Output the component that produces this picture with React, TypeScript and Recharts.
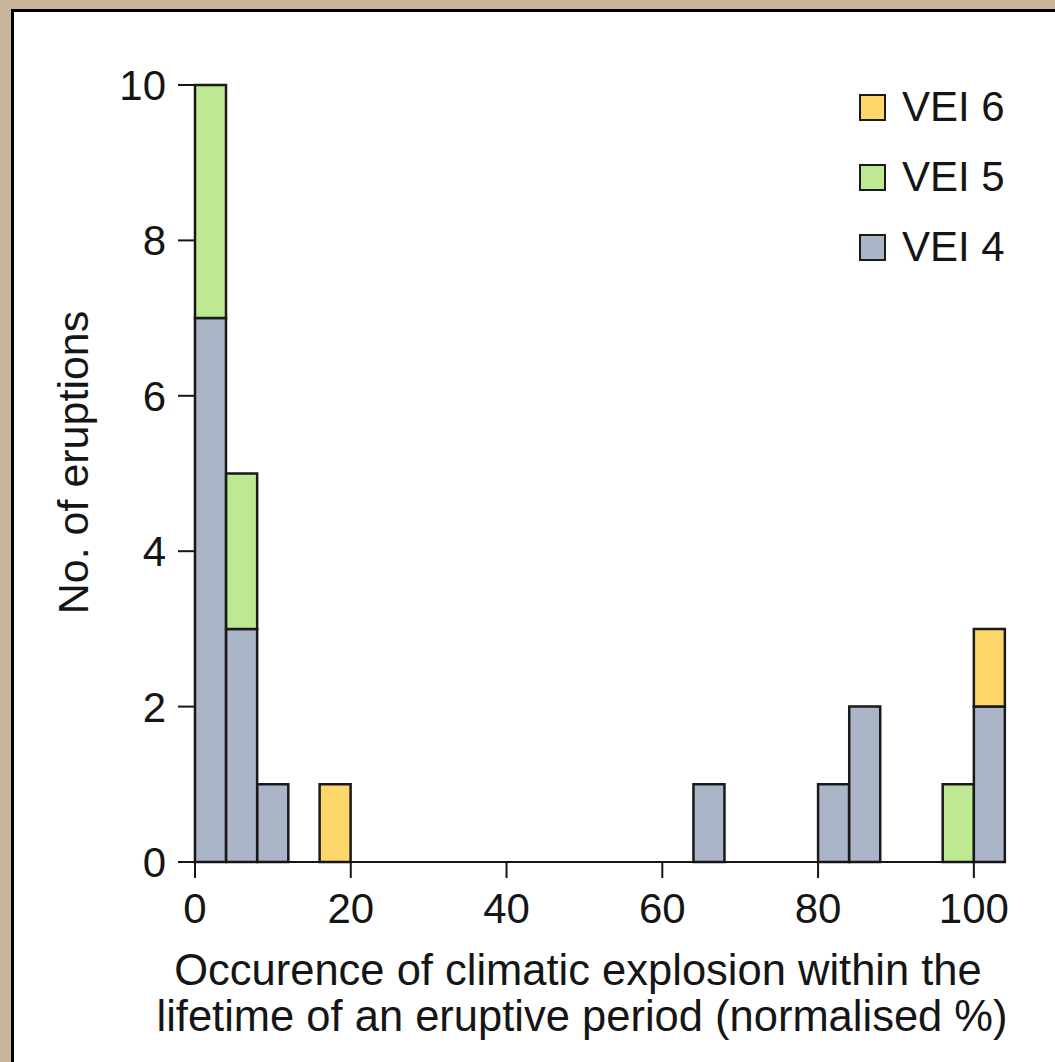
import React from "react";
import {
  ComposedChart,
  Bar,
  XAxis,
  YAxis,
  Legend,
} from "recharts";

// histogram bins (left edge, % of eruptive period), bin width 4
const binStarts = [0, 4, 8, 12, 16, 20, 24, 28, 32, 36, 40, 44, 48, 52, 56, 60, 64, 68, 72, 76, 80, 84, 88, 92, 96, 100];
const vei4 = [7, 3, 1, 0, 0, 0, 0, 0, 0, 0, 0, 0, 0, 0, 0, 0, 1, 0, 0, 0, 1, 2, 0, 0, 0, 2];
const vei5 = [3, 2, 0, 0, 0, 0, 0, 0, 0, 0, 0, 0, 0, 0, 0, 0, 0, 0, 0, 0, 0, 0, 0, 0, 1, 0];
const vei6 = [0, 0, 0, 0, 1, 0, 0, 0, 0, 0, 0, 0, 0, 0, 0, 0, 0, 0, 0, 0, 0, 0, 0, 0, 0, 1];

const xTicks = [0, 20, 40, 60, 80, 100];
const yTicks = [0, 2, 4, 6, 8, 10];

const series = [
  { key: "vei4", name: "VEI 4", color: "#abb5c8" },
  { key: "vei5", name: "VEI 5", color: "#bfe892" },
  { key: "vei6", name: "VEI 6", color: "#fed76b" },
];

const data = binStarts.map((b, i) => ({
  bin: b,
  start: b,
  vei4: vei4[i],
  vei5: vei5[i],
  vei6: vei6[i],
}));

const FONT = "'Liberation Sans', Arial, Helvetica, sans-serif";
const INK = "#151515";

const XTitle = (props: any) => {
  const { viewBox } = props;
  const cx = viewBox.x + viewBox.width / 2 - 22;
  return (
    <text textAnchor="middle" fontFamily={FONT} fontSize={43.5} fill={INK}>
      <tspan x={cx} y={viewBox.y + 123}>
        Occurence of climatic explosion within the
      </tspan>
      <tspan x={cx + 4} y={viewBox.y + 169}>
        lifetime of an eruptive period (normalised %)
      </tspan>
    </text>
  );
};

const YTitle = (props: any) => {
  const { viewBox } = props;
  const x = viewBox.x - 7;
  const y = viewBox.y + viewBox.height / 2 - 11;
  return (
    <text
      x={x}
      y={y}
      transform={`rotate(-90 ${x} ${y})`}
      textAnchor="middle"
      fontFamily={FONT}
      fontSize={43}
      fill={INK}
    >
      No. of eruptions
    </text>
  );
};

const LegendBox = () => (
  <div style={{ fontFamily: FONT, fontSize: 42, color: INK }}>
    {[...series].reverse().map((s) => (
      <div
        key={s.key}
        style={{ display: "flex", alignItems: "center", height: 70 }}
      >
        <span
          style={{
            width: 23,
            height: 23,
            background: s.color,
            border: "2px solid #1a1a1a",
            marginRight: 16,
            display: "inline-block",
          }}
        />
        <span>{s.name}</span>
      </div>
    ))}
  </div>
);

const App = () => {
  return (
    <div
      style={{
        position: "fixed",
        left: 0,
        top: 0,
        width: 1055,
        height: 1062,
        background: "#c9b59c",
        overflow: "hidden",
      }}
    >
      <div
        style={{
          position: "absolute",
          left: 11,
          top: 9,
          width: 1100,
          height: 1100,
          background: "#fff",
          borderLeft: "3px solid #000",
          borderTop: "3px solid #000",
        }}
      />
      <div style={{ position: "absolute", left: 0, top: 0 }}>
        <ComposedChart
          width={1055}
          height={1062}
          data={data}
          margin={{ top: 85, right: 50, left: 95, bottom: 50 }}
          barCategoryGap={0}
          barGap={0}
        >
          <XAxis xAxisId="bins" dataKey="bin" type="category" hide height={0} />
          <XAxis
            xAxisId="num"
            dataKey="start"
            type="number"
            domain={[0, 104]}
            ticks={xTicks}
            allowDataOverflow
            height={150}
            stroke={INK}
            strokeWidth={2}
            tickSize={16}
            tickMargin={15}
            tick={{ fill: INK, fontSize: 42, fontFamily: FONT }}
            label={<XTitle />}
          />
          <YAxis
            domain={[0, 10]}
            ticks={yTicks}
            width={100}
            stroke={INK}
            strokeWidth={2}
            tickSize={17}
            tickMargin={12}
            tick={{ fill: INK, fontSize: 42, fontFamily: FONT }}
            label={<YTitle />}
          />
          <Legend
            layout="vertical"
            align="center"
            verticalAlign="middle"
            content={<LegendBox />}
            wrapperStyle={{ left: 859, top: 72, width: 190 }}
          />
          {series.map((s) => (
            <Bar
              key={s.key}
              xAxisId="bins"
              dataKey={s.key}
              name={s.name}
              stackId="a"
              fill={s.color}
              stroke="#1a1a1a"
              strokeWidth={2.5}
              isAnimationActive={false}
            />
          ))}
        </ComposedChart>
      </div>
    </div>
  );
};

export default App;
